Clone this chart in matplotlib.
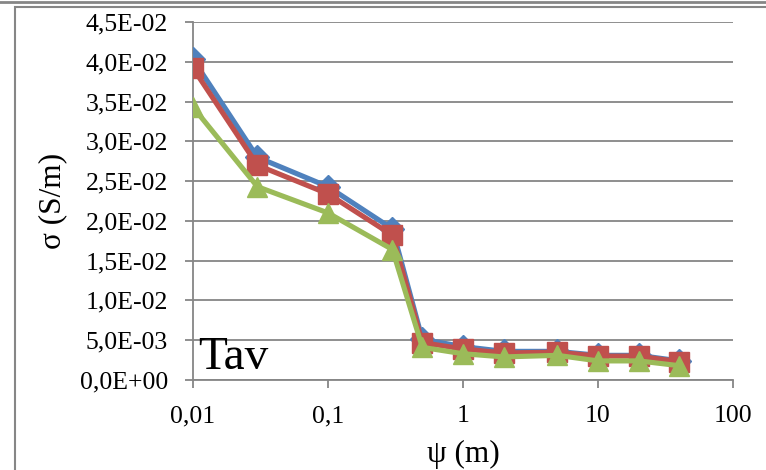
import matplotlib
matplotlib.use("Agg")
import matplotlib.pyplot as plt
from matplotlib.lines import Line2D
from matplotlib.patches import Rectangle
from matplotlib.ticker import FixedLocator, FuncFormatter, NullLocator

plt.rcParams['font.family'] = ['Liberation Serif', 'DejaVu Serif']

psi = [0.01, 0.03, 0.1, 0.3, 0.5, 1, 2, 5, 10, 20, 40]
sig_blue = [0.0403, 0.0280, 0.0243, 0.0190, 0.0051, 0.0042, 0.0036, 0.0036, 0.0031, 0.0031, 0.0024]
sig_red = [0.0392, 0.0270, 0.0234, 0.0182, 0.0047, 0.0039, 0.0034, 0.0035, 0.0030, 0.0030, 0.0023]
sig_green = [0.0343, 0.0243, 0.0210, 0.0164, 0.0041, 0.0033, 0.0029, 0.0031, 0.0024, 0.0024, 0.0018]

y_ticks = [i * 0.005 for i in range(10)]
x_ticks = [0.01, 0.1, 1, 10, 100]
x_labels = ["0,01", "0,1", "1", "10", "100"]

grey = "#868686"

fig = plt.figure(figsize=(7.66, 4.70), dpi=100)
ax = fig.add_axes([193/766, 1-380/470, 540/766, 358/470])

ax.plot(psi, sig_blue, color="#4F81BD", lw=3.7, marker="D", ms=12, zorder=3)
ax.plot(psi, sig_red, color="#C0504D", lw=3.7, marker="s", ms=14, zorder=4)
ax.plot(psi, sig_green, color="#9BBB59", lw=3.7, marker="^", ms=15, zorder=5)

ax.set_xscale("log")
ax.set_xlim(0.01, 100)
ax.set_ylim(0, 0.045)
ax.xaxis.set_major_locator(FixedLocator(x_ticks))
ax.xaxis.set_minor_locator(NullLocator())
ax.set_xticklabels(x_labels)
ax.set_yticks(y_ticks)
ax.yaxis.set_major_formatter(FuncFormatter(
    lambda v, p: ("%.1E" % v).replace(".", ",")))

ax.grid(axis="y", color=grey, lw=1.3)
ax.set_axisbelow(True)
for s in ["top", "right"]:
    ax.spines[s].set_visible(False)
for s in ["left", "bottom"]:
    ax.spines[s].set_color(grey)
    ax.spines[s].set_linewidth(1.3)
ax.tick_params(axis="both", colors=grey, width=1.3, length=6, labelsize=18.5,
               labelcolor="black")
ax.tick_params(axis="x", pad=12)
ax.tick_params(axis="y", pad=12)

ax.set_ylabel("σ (S/m)", fontsize=22.5, labelpad=9)
ax.set_xlabel("ψ (m)", fontsize=22.5, labelpad=9)

ax.text(0.0109, 0.0001, "Tav", fontsize=34, ha="left", va="bottom")

# chart area frame
fig.add_artist(Line2D([0, 1], [1-2/470, 1-2/470], color=grey, lw=2,
                      transform=fig.transFigure))
fig.add_artist(Rectangle((15/766, -0.05), 1.0, 1-7/470+0.05, fill=False,
                         ec=grey, lw=1.5, transform=fig.transFigure))

fig.savefig("out.png", dpi=100)
